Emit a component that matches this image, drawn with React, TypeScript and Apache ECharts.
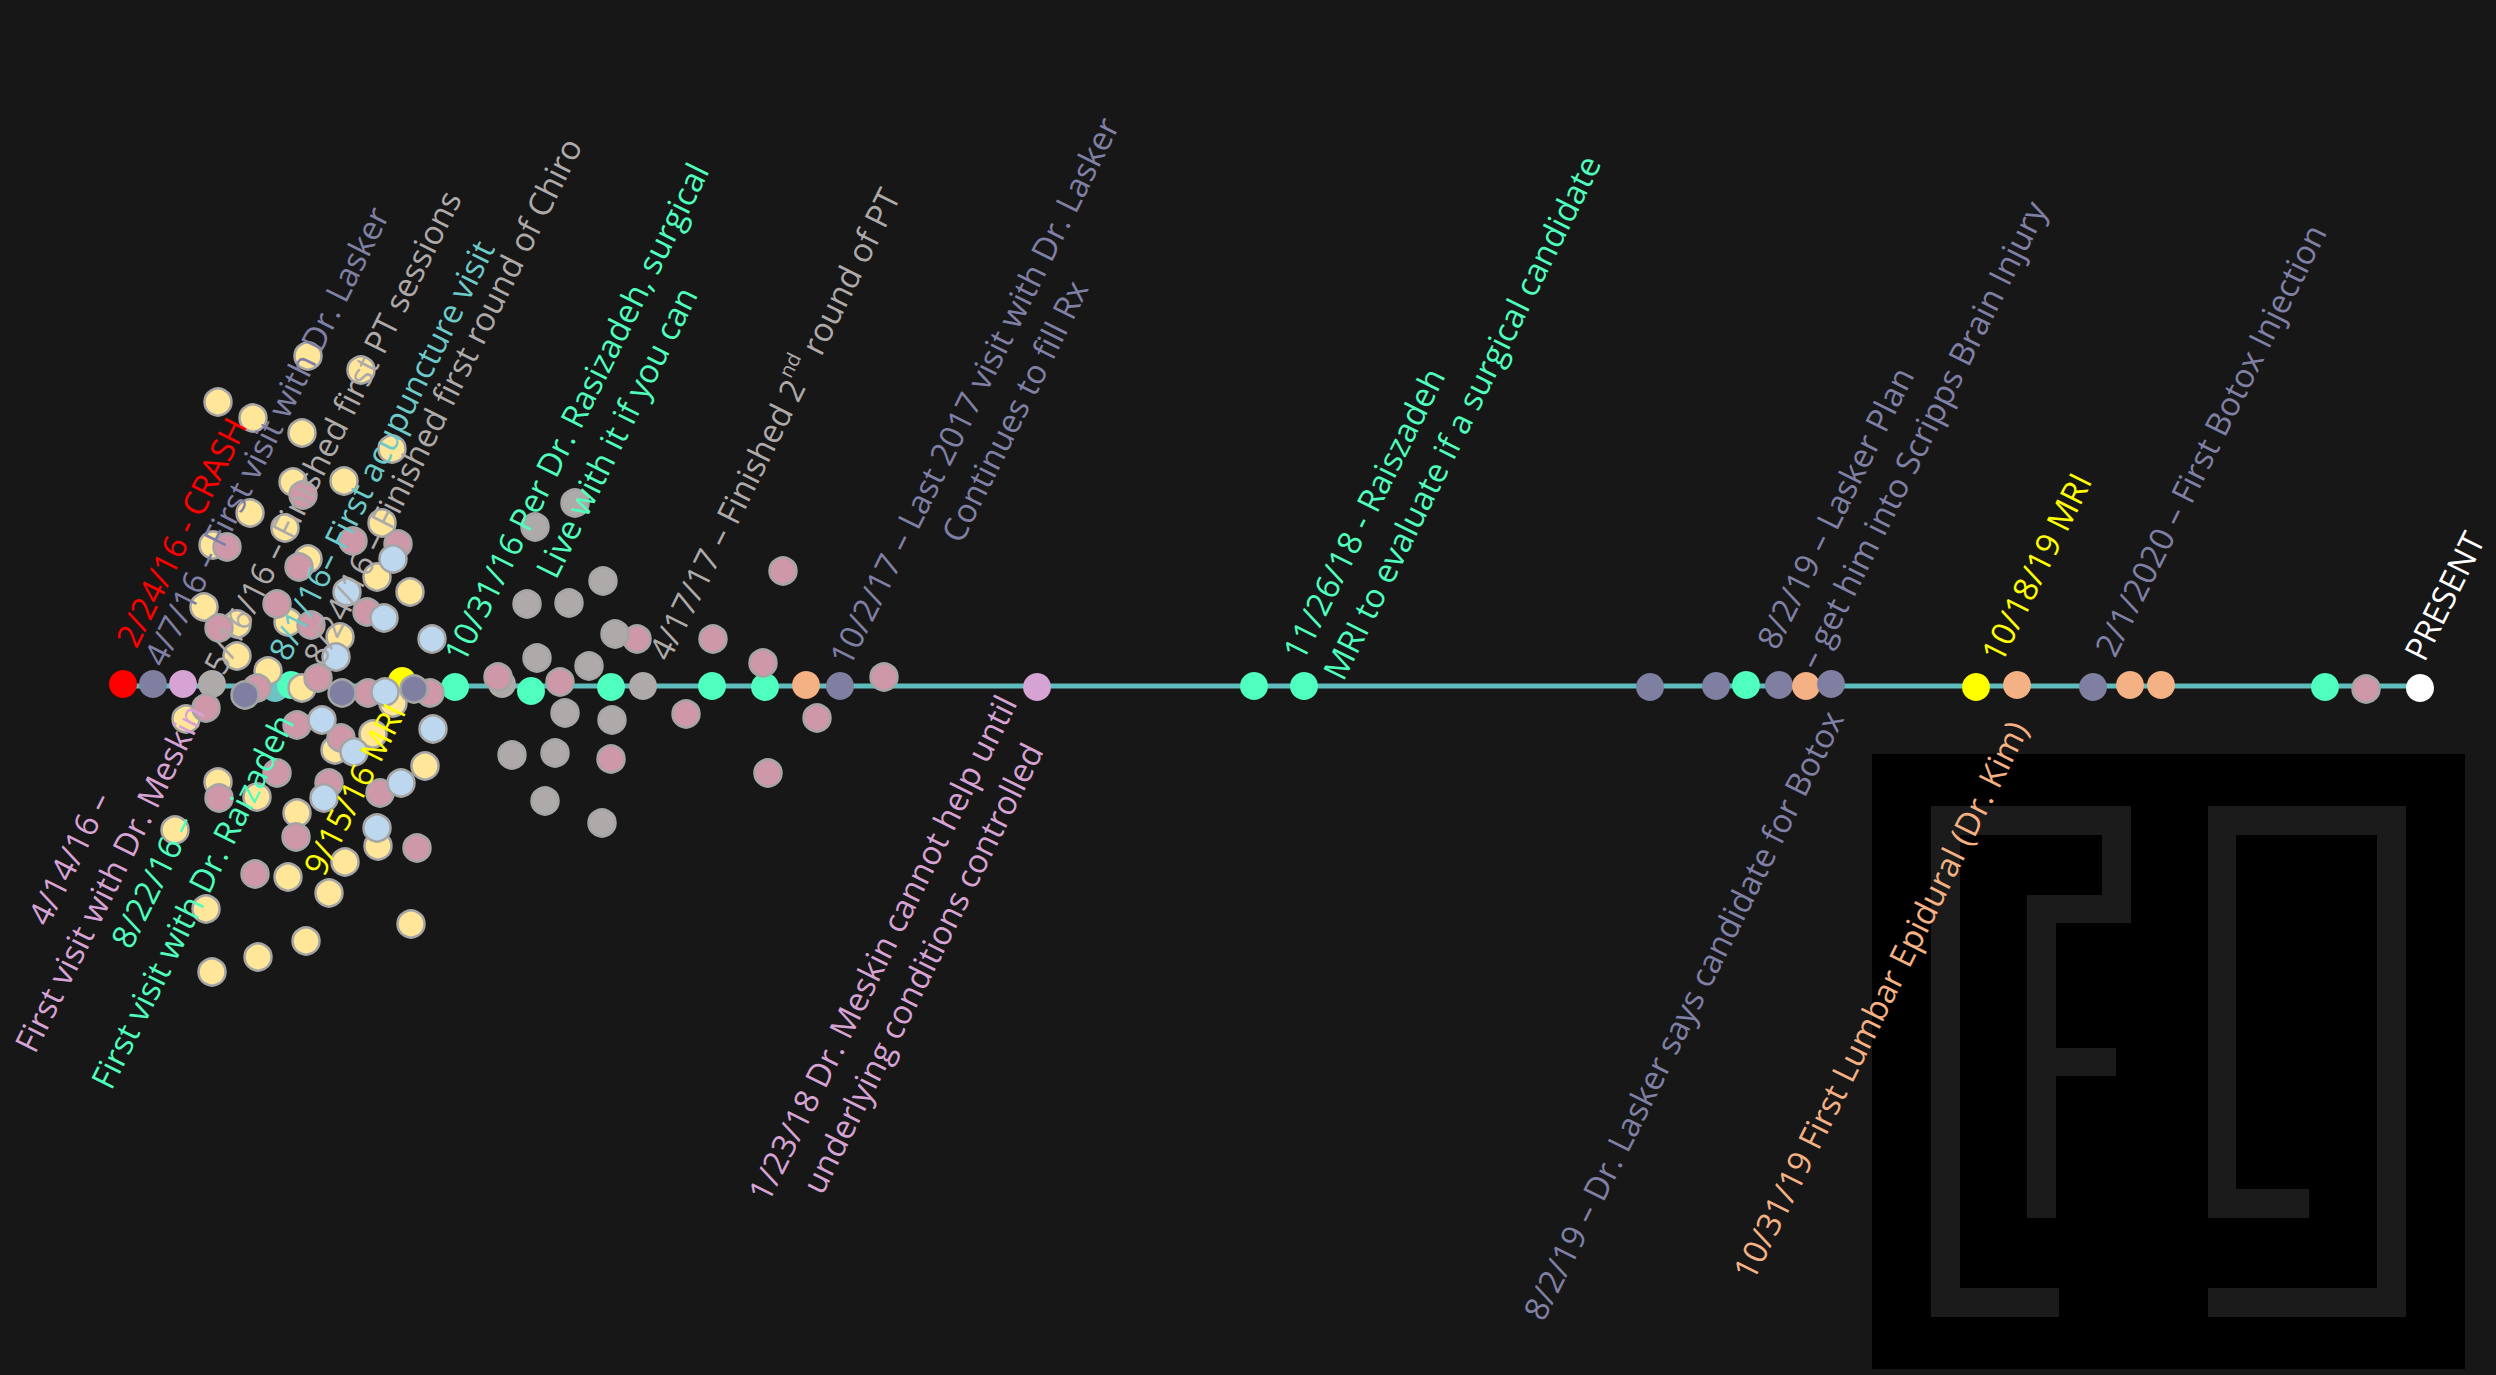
import React, { useEffect, useRef } from 'react';
import * as echarts from 'echarts';

// ---- Timeline events on the main line (x = timeline position, y = vertical position) ----
const mainX = [123, 153, 183, 212, 275, 291, 402, 455, 502, 531, 611, 643, 712, 765, 806, 840, 1037, 1254, 1304, 1650, 1716, 1746, 1779, 1806, 1831, 1976, 2017, 2093, 2130, 2161, 2325, 2420];
const mainY = [684, 684, 684, 684, 688, 685, 681, 687, 684, 691, 687, 686, 686, 687, 685, 686, 687, 686, 686, 687, 686, 685, 685, 686, 684, 687, 685, 687, 685, 685, 687, 688];
const mainKind = ['crash', 'lasker', 'meskin', 'pt', 'acu', 'raiz', 'mri', 'raiz', 'pt', 'raiz', 'raiz', 'pt', 'raiz', 'raiz', 'epidural', 'lasker', 'meskin', 'raiz', 'raiz', 'lasker', 'lasker', 'raiz', 'lasker', 'epidural', 'lasker', 'mri', 'epidural', 'lasker', 'epidural', 'epidural', 'raiz', 'present'];

// ---- Individual sessions (scattered dots) ----
const ptSessions = [
  [308, 356], [361, 370], [218, 402], [253, 418], [302, 433], [392, 449], [293, 482], [344, 481], [250, 513], [285, 528],
  [382, 523], [213, 545], [308, 559], [377, 577], [410, 592], [204, 607], [237, 624], [288, 622], [340, 637], [237, 656],
  [268, 671], [302, 688], [393, 703], [186, 719], [335, 750], [373, 734], [425, 766], [218, 782], [257, 797], [297, 813],
  [378, 846], [175, 830], [345, 862], [288, 877], [329, 893], [206, 909], [306, 941], [411, 924], [258, 957], [212, 972],
];
const chiroSessions = [
  [303, 495], [227, 547], [353, 541], [398, 544], [299, 567], [277, 604], [219, 628], [367, 612], [311, 625], [318, 678],
  [257, 688], [368, 693], [430, 693], [206, 708], [297, 725], [341, 738], [277, 773], [219, 798], [329, 783], [380, 793],
  [296, 837], [417, 848], [255, 874], [498, 677], [560, 682], [637, 639], [713, 639], [763, 663], [686, 714], [611, 759],
  [768, 773], [817, 718], [783, 571], [884, 677], [2366, 689],
];
const acuSessions = [
  [393, 559], [347, 592], [384, 618], [432, 639], [336, 657], [385, 692], [322, 720], [433, 729], [354, 752], [324, 798],
  [401, 783], [377, 828],
];
const pt2Sessions = [
  [575, 503], [535, 527], [603, 581], [527, 604], [569, 603], [615, 634], [537, 658], [589, 666], [565, 713], [612, 720],
  [512, 755], [555, 753], [545, 801], [602, 823],
];
const laskerVisits = [[245, 695], [342, 693], [414, 689]];

// ---- Event labels ----
const labelTexts = [
  '2/24/16 - CRASH',
  '4/7/16 – First visit with Dr. Lasker',
  '5/16/16 – Finished first PT sessions',
  '8/1/16– First acupuncture visit',
  '8/24/16 – Finished first round of Chiro',
  '10/31/16 Per Dr. Rasizadeh, surgical\nLive with it if you can',
  '4/17/17 – Finished 2{sup|nd} round of PT',
  '10/2/17 – Last 2017 visit with Dr. Lasker\nContinues to fill Rx',
  '11/26/18 - Raiszadeh\nMRI to evaluate if a surgical candidate',
  '8/2/19 – Lasker Plan\n– get him into Scripps Brain Injury',
  '10/18/19 MRI',
  '2/1/2020 – First Botox Injection',
  'PRESENT',
  '4/14/16 –\nFirst visit with Dr. Meskin',
  '8/22/16 –\nFirst visit with Dr. Raizadeh',
  '9/15/16 MRI',
  '1/23/18 Dr. Meskin cannot help until\nunderlying conditions controlled',
  '8/2/19 – Dr. Lasker says candidate for Botox',
  '10/31/19 First Lumbar Epidural (Dr. Kim)',
];
const labelX = [181, 266, 332, 381, 442, 596, 774, 994, 1312, 1786, 2036, 2210, 2444, 89, 172, 354, 902, 1683, 1880];
const labelY = [532, 436, 432, 450, 401, 422, 424, 401, 667, 656, 567, 440, 596, 868, 891, 789, 958, 1015, 1000];
const labelKind = ['crash', 'lasker', 'pt', 'acu', 'pt', 'raiz', 'pt', 'lasker', 'raiz', 'lasker', 'mri', 'lasker', 'present', 'meskin', 'raiz', 'mri', 'meskin', 'lasker', 'epidural'];
const labelAlign = ['center', 'center', 'center', 'center', 'center', 'center', 'center', 'center', 'left', 'left', 'center', 'center', 'center', 'center', 'center', 'center', 'center', 'center', 'center'];

const DOT_COLORS: Record<string, string> = {
  crash: '#ff0000', lasker: '#7f7fa1', meskin: '#d6a3d4', pt: '#aeaaaa', acu: '#6cc3c3',
  raiz: '#4effbd', mri: '#ffff00', epidural: '#f4b183', present: '#ffffff',
};
const TEXT_COLORS: Record<string, string> = {
  crash: '#ff0000', lasker: '#8080a6', meskin: '#d6a3d4', pt: '#aeaaaa', acu: '#6ccaca',
  raiz: '#4effbd', mri: '#ffff00', epidural: '#f4b183', present: '#ffffff',
};

const FONT = '"Open Sans", "Noto Sans", sans-serif';
const BG = '#171717';
const LOGO = '#1b1b1b';

function sessionSeries(name: string, data: number[][], color: string) {
  return {
    name, type: 'scatter', data, symbolSize: 27, z: 3, silent: true,
    itemStyle: { color, borderColor: '#a5a5a5', borderWidth: 2.5, opacity: 1 },
  };
}

export default function App() {
  const ref = useRef<HTMLDivElement>(null);
  useEffect(() => {
    if (!ref.current) return;
    const chart = echarts.init(ref.current, undefined, { renderer: 'svg' });
    const mainData = mainX.map((x, i) => ({
      value: [x, mainY[i]],
      itemStyle: { color: DOT_COLORS[mainKind[i]], opacity: 1 },
    }));
    const labelData = labelTexts.map((t, i) => ({
      value: [labelX[i], labelY[i]],
      label: {
        show: true,
        formatter: t,
        color: TEXT_COLORS[labelKind[i]],
        align: labelAlign[i],
        verticalAlign: 'middle',
        rotate: 63.5,
      },
    }));
    const rect = (x: number, y: number, w: number, h: number, fill: string) => ({
      type: 'rect', shape: { x, y, width: w, height: h }, style: { fill }, silent: true, z: 0,
    });
    chart.setOption({
      animation: false,
      backgroundColor: BG,
      grid: { left: 0, right: 0, top: 0, bottom: 0 },
      xAxis: { type: 'value', min: 0, max: 2496, show: false },
      yAxis: { type: 'value', min: 0, max: 1375, inverse: true, show: false },
      graphic: [
        rect(1872, 754, 593, 615, '#000000'),
        rect(1931, 806, 29, 511, LOGO),
        rect(1931, 1288, 128, 29, LOGO),
        rect(1931, 806, 200, 29, LOGO),
        rect(2102, 806, 29, 117, LOGO),
        rect(2027, 895, 104, 28, LOGO),
        rect(2027, 895, 29, 323, LOGO),
        rect(2027, 1048, 89, 28, LOGO),
        rect(2208, 806, 198, 29, LOGO),
        rect(2208, 806, 28, 412, LOGO),
        rect(2208, 1189, 101, 29, LOGO),
        rect(2377, 806, 29, 511, LOGO),
        rect(2208, 1288, 198, 29, LOGO),
      ],
      series: [
        {
          type: 'line', data: [[mainX[0], 686], [mainX[mainX.length - 1], 686]], symbol: 'none', z: 1, silent: true,
          lineStyle: { color: '#5fbdbd', width: 5, opacity: 1 },
        },
        { type: 'scatter', data: mainData, symbolSize: 28, z: 2, silent: true, itemStyle: { opacity: 1 } },
        sessionSeries('PT', ptSessions, '#ffe699'),
        sessionSeries('Chiro', chiroSessions, '#cf98a8'),
        sessionSeries('Acupuncture', acuSessions, '#bdd7ee'),
        sessionSeries('PT round 2', pt2Sessions, '#aeaaaa'),
        sessionSeries('Lasker', laskerVisits, '#7f7fa1'),
        {
          type: 'scatter', data: labelData, symbolSize: 1, z: 10, silent: true,
          itemStyle: { color: 'rgba(0,0,0,0)', opacity: 1 },
          label: {
            show: true, position: 'inside', fontFamily: FONT, fontSize: 33, lineHeight: 45, opacity: 1,
            rich: { sup: { fontSize: 20, verticalAlign: 'top', lineHeight: 30, fontFamily: FONT } },
          },
        },
      ],
    });
    return () => chart.dispose();
  }, []);
  return <div ref={ref} style={{ position: 'fixed', left: 0, top: 0, width: '100vw', height: '100vh' }} />;
}
